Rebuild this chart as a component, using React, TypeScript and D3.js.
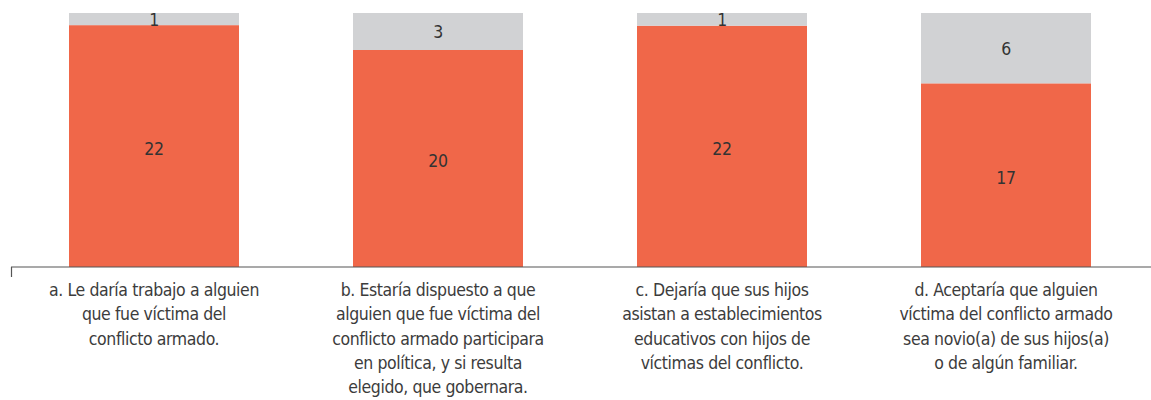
import React from "react";
import * as d3 from "d3";

const categories = ["a", "b", "c", "d"];
const labels: string[][] = [
  ["a. Le daría trabajo a alguien", "que fue víctima del", "conflicto armado."],
  ["b. Estaría dispuesto a que", "alguien que fue víctima del", "conflicto armado participara", "en política, y si resulta", "elegido, que gobernara."],
  ["c. Dejaría que sus hijos", "asistan a establecimientos", "educativos con hijos de", "víctimas del conflicto."],
  ["d. Aceptaría que alguien", "víctima del conflicto armado", "sea novio(a) de sus hijos(a)", "o de algún familiar."],
];
// values (labels show rounded values)
const siValues = [21.9, 19.65, 21.85, 16.63];
const noValues = [1.1, 3.35, 1.15, 6.37];

const W = 1151;
const H = 400;
const FONT = "'Liberation Sans Narrow', 'DejaVu Sans Condensed', 'Liberation Sans', sans-serif";

export default function App() {
  const x = d3
    .scaleBand<string>()
    .domain(categories)
    .range([69 - 57, 69 - 57 + 284 * 4])
    .paddingInner(114 / 284)
    .paddingOuter(57 / 284);
  const bw = x.bandwidth();
  const y = d3.scaleLinear().domain([0, 23]).range([267, 13]);
  const stack = d3
    .stack<number>()
    .keys(["si", "no"])
    .value((i, k) => (k === "si" ? siValues[i] : noValues[i]));
  const series = stack(d3.range(categories.length));
  const colors = ["#F06749", "#D1D2D4"];

  return (
    <svg width={W} height={H} style={{ position: "absolute", left: 0, top: 0 }}>
      {series.map((s, si) =>
        s.map((d, i) => (
          <g key={`${si}-${i}`}>
            <rect
              x={x(categories[i])}
              y={y(d[1])}
              width={bw}
              height={y(d[0]) - y(d[1])}
              fill={colors[si]}
            />
            <text
              x={(x(categories[i]) as number) + bw / 2}
              y={(y(d[0]) + y(d[1])) / 2}
              dy={si === 0 ? "0.5em" : "0.4em"}
              textAnchor="middle"
              fontFamily={FONT}
              fontSize={17.5}
              letterSpacing={-0.3}
              fill="#333"
            >
              {Math.round(d[1] - d[0])}
            </text>
          </g>
        ))
      )}
      <line x1={11} x2={1151} y1={267} y2={267} stroke="#555" strokeWidth={1.2} />
      <line x1={11.5} x2={11.5} y1={267} y2={277} stroke="#555" strokeWidth={1.2} />
      {labels.map((lines, i) => (
        <text
          key={i}
          textAnchor="middle"
          fontFamily={FONT}
          fontSize={17.5}
          letterSpacing={-0.4}
          fill="#3c3c3c"
        >
          {lines.map((l, j) => (
            <tspan key={j} x={(x(categories[i]) as number) + bw / 2} y={296 + j * 24.3}>
              {l}
            </tspan>
          ))}
        </text>
      ))}
    </svg>
  );
}
